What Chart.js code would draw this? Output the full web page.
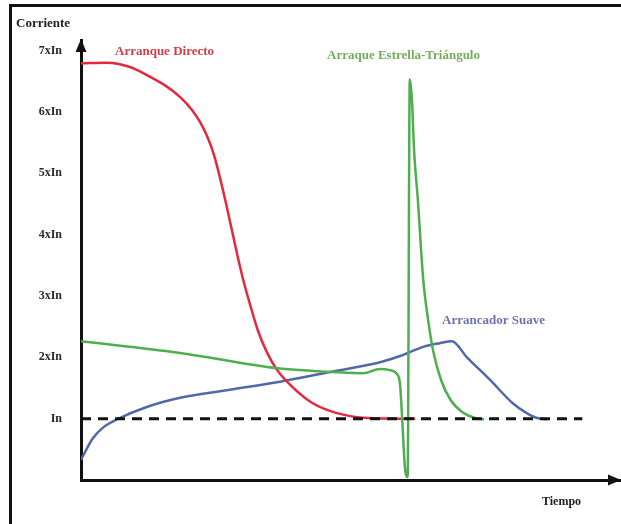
<!DOCTYPE html>
<html>
<head>
<meta charset="utf-8">
<script src="https://cdn.jsdelivr.net/npm/chart.js@4.4.1/dist/chart.umd.min.js"></script>
<style>
  html, body { margin: 0; padding: 0; background: #fff; overflow: hidden; }
  #marco { position: absolute; left: 9px; top: 4px; width: 700px; height: 600px;
           border-left: 3px solid #111; border-top: 3px solid #111; }
  #grafico { position: absolute; left: 0; top: 0; }
</style>
</head>
<body>
<div id="marco"></div>
<canvas id="grafico" width="621" height="524"></canvas>
<script>
// Arranque directo
var tiempoDirecto    = [0, 4.8, 9.1, 12.2, 15.6, 18.4, 20.6, 22.1, 23.4, 24.7, 25.8, 26.9, 28.0, 29.1, 30.1, 31.4, 32.8, 34.5, 36.4, 39.3, 43.0, 47.5, 53.1, 59.2, 62];
var corrienteDirecto = [6.79, 6.80, 6.73, 6.60, 6.43, 6.24, 6.03, 5.83, 5.60, 5.29, 4.92, 4.51, 4.07, 3.63, 3.26, 2.85, 2.44, 2.08, 1.79, 1.51, 1.25, 1.09, 1.01, 1.0, 1.0];

// Arranque estrella-triangulo
var tiempoEstrella    = [0, 18.4, 36.4, 46.8, 52.3, 55.5, 57.3, 58.6, 59.2, 59.6, 60.1, 60.6, 61.0, 61.4, 61.8, 62.5, 63.5, 64.4, 65.3, 66.8, 68.6, 70.7, 73.1, 74.8];
var corrienteEstrella = [2.26, 2.07, 1.82, 1.76, 1.74, 1.81, 1.79, 1.73, 1.55, 0.98, 0.20, 0.05, 6.53, 6.19, 5.37, 4.56, 3.26, 2.61, 2.12, 1.63, 1.30, 1.11, 1.01, 0.99];

// Arrancador suave
var tiempoSuave    = [0, 2.2, 4.3, 6.7, 12.2, 18.4, 27.6, 36.9, 46.2, 55.5, 59.2, 63.5, 66.6, 68.8, 71.6, 75.9, 80.1, 82.7, 84.6, 86.5];
var corrienteSuave = [0.33, 0.68, 0.87, 0.99, 1.19, 1.34, 1.47, 1.60, 1.76, 1.92, 2.02, 2.17, 2.23, 2.26, 2.00, 1.63, 1.25, 1.09, 1.01, 0.99];

// corriente nominal
var tiempoNominal    = [0, 93];
var corrienteNominal = [1, 1];

var ticksCorriente = [1, 2, 3, 4, 5, 6, 7];

function puntos(t, i) {
  var out = [];
  for (var k = 0; k < t.length; k++) out.push({x: t[k], y: i[k]});
  return out;
}

var flechasYTextos = {
  id: 'flechasYTextos',
  afterDraw: function(chart) {
    var ctx = chart.ctx, a = chart.chartArea;
    ctx.save();
    ctx.fillStyle = '#111';
    // flecha eje Y
    ctx.beginPath();
    ctx.moveTo(a.left, a.top - 1);
    ctx.lineTo(a.left - 5.5, a.top + 12);
    ctx.lineTo(a.left + 5.5, a.top + 12);
    ctx.closePath();
    ctx.fill();
    // flecha eje X
    ctx.beginPath();
    ctx.moveTo(a.right + 1, a.bottom);
    ctx.lineTo(a.right - 12, a.bottom - 5.5);
    ctx.lineTo(a.right - 12, a.bottom + 5.5);
    ctx.closePath();
    ctx.fill();

    ctx.textBaseline = 'middle';
    ctx.textAlign = 'left';
    ctx.font = 'bold 13px "Liberation Serif"';
    ctx.fillStyle = '#222';
    ctx.fillText('Corriente', 16, 24);
    ctx.font = 'bold 12px "Liberation Serif"';
    ctx.fillText('Tiempo', 542, 502);

    ctx.font = 'bold 13px "Liberation Serif"';
    ctx.fillStyle = '#d23c4a';
    ctx.fillText('Arranque Directo', 115, 52);
    ctx.fillStyle = '#74ad5e';
    ctx.fillText('Arraque Estrella-Triángulo', 327, 56);
    ctx.fillStyle = '#6e70b2';
    ctx.fillText('Arrancador Suave', 442, 321);
    ctx.restore();
  }
};

new Chart(document.getElementById('grafico'), {
  type: 'scatter',
  data: {
    datasets: [
      {
        label: 'In',
        data: puntos(tiempoNominal, corrienteNominal),
        showLine: true, borderColor: '#111', borderWidth: 3, borderDash: [10, 7],
        pointRadius: 0, order: 0
      },
      {
        label: 'Arraque Estrella-Triángulo',
        data: puntos(tiempoEstrella, corrienteEstrella),
        showLine: true, borderColor: '#4fae4f', borderWidth: 2.5,
        cubicInterpolationMode: 'monotone', pointRadius: 0, order: 1
      },
      {
        label: 'Arranque Directo',
        data: puntos(tiempoDirecto, corrienteDirecto),
        showLine: true, borderColor: '#e2293d', borderWidth: 2.5,
        cubicInterpolationMode: 'monotone', pointRadius: 0, order: 2
      },
      {
        label: 'Arrancador Suave',
        data: puntos(tiempoSuave, corrienteSuave),
        showLine: true, borderColor: '#5169a6', borderWidth: 2.5,
        cubicInterpolationMode: 'monotone', pointRadius: 0, order: 3
      }
    ]
  },
  options: {
    responsive: false,
    animation: false,
    layout: { autoPadding: false, padding: { left: 10, right: 1, top: 40, bottom: 44 } },
    plugins: { legend: { display: false }, tooltip: { enabled: false } },
    scales: {
      x: {
        type: 'linear', min: 0, max: 100,
        grid: { display: false, drawTicks: false },
        border: { display: true, color: '#111', width: 3 },
        ticks: { display: false },
        afterFit: function(s) { s.height = 0; }
      },
      y: {
        type: 'linear', min: 0, max: 7.17,
        grid: { display: false, drawTicks: false },
        border: { display: true, color: '#111', width: 3 },
        afterBuildTicks: function(s) {
          s.ticks = ticksCorriente.map(function(v) { return {value: v}; });
        },
        afterFit: function(s) { s.width = 71; },
        ticks: {
          padding: 19,
          color: '#2a2a2a',
          font: { family: '"Liberation Serif"', size: 12, weight: 'bold' },
          callback: function(v) { return v === 1 ? 'In' : v + 'xIn'; }
        }
      }
    }
  },
  plugins: [flechasYTextos]
});
</script>
</body>
</html>
